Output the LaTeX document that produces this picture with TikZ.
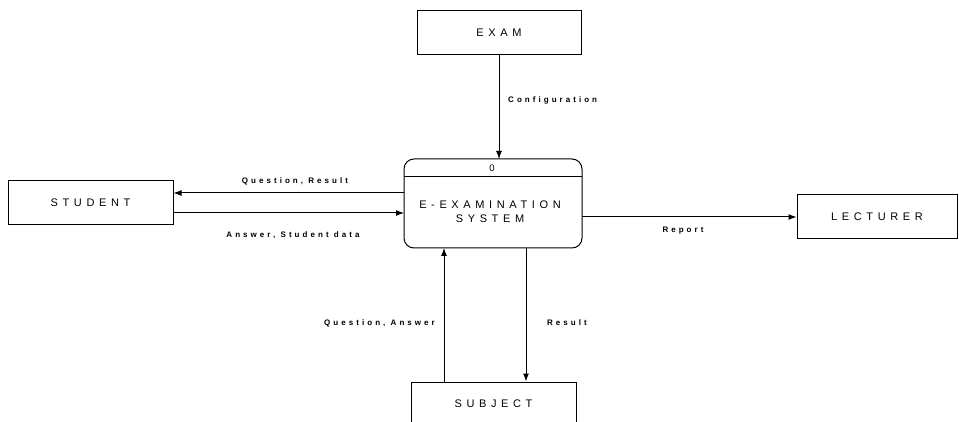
\documentclass[tikz,border=0pt]{standalone}
\usepackage{fontspec}
\setmainfont{Liberation Sans}
\newfontfamily\boxfont[LetterSpace=42]{Liberation Sans}
\newfontfamily\labfont[LetterSpace=38]{Liberation Sans}
\usetikzlibrary{arrows.meta}
\begin{document}
\begin{tikzpicture}[x=1pt,y=-1pt,
  entity/.style={draw,line width=1pt,inner sep=0pt,font=\boxfont\fontsize{11}{12}\selectfont},
  flow/.style={line width=1pt,-{Latex[length=8pt,width=6pt]}},
  lab/.style={font=\labfont\fontsize{8}{9}\selectfont\bfseries,inner sep=0pt}]
\useasboundingbox (0,0) rectangle (959,422);
\node[entity,minimum width=164pt,minimum height=44pt] (exam) at (499,33) {EXAM};
\node[entity,minimum width=165pt,minimum height=44pt] (student) at (90.5,203) {STUDENT};
\node[entity,minimum width=160pt,minimum height=44pt] (lect) at (877,217) {LECTURER};
\node[entity,minimum width=165pt,minimum height=46pt] (subj) at (493.5,405) {};
\node[font=\boxfont\fontsize{11}{12}\selectfont,inner sep=0pt] (subjtxt) at (493.5,404) {SUBJECT};
\draw[line width=1pt,rounded corners=10pt] (404,159) rectangle (582,248);
\draw[line width=1pt] (404,177) -- (582,177);
\node[font=\fontsize{9.5}{10}\selectfont,inner sep=0pt] (pid) at (492,168) {0};
\node[font=\boxfont\fontsize{11}{14}\selectfont,align=center,inner sep=0pt] (ptxt) at (490,211.5) {E-EXAMINATION\\SYSTEM};
% flows
\coordinate (cfgend) at (499,159);
\draw[flow] (exam.south -| cfgend) -- (cfgend);
\node[lab,anchor=west] (cfg) at (508,100) {Configuration};
\coordinate (qr1) at (404,193);
\draw[flow] (qr1) -- (qr1 -| student.east);
\node[lab] (qrl) at (295,181) {Question, Result};
\coordinate (as1) at (404,213);
\draw[flow] (as1 -| student.east) -- (as1);
\node[lab] (asl) at (293,235) {Answer, Student data};
\coordinate (rep) at (582,217);
\draw[flow] (rep) -- (rep -| lect.west);
\node[lab] (repl) at (683,231) {Report};
\coordinate (qa) at (444,248);
\draw[flow] (qa |- subj.north) -- (qa);
\node[lab,anchor=east] (qal) at (435,323) {Question, Answer};
\coordinate (res) at (526,248);
\draw[flow] (res) -- (res |- subj.north);
\node[lab] (resl) at (567,323) {Result};
\end{tikzpicture}
\end{document}
